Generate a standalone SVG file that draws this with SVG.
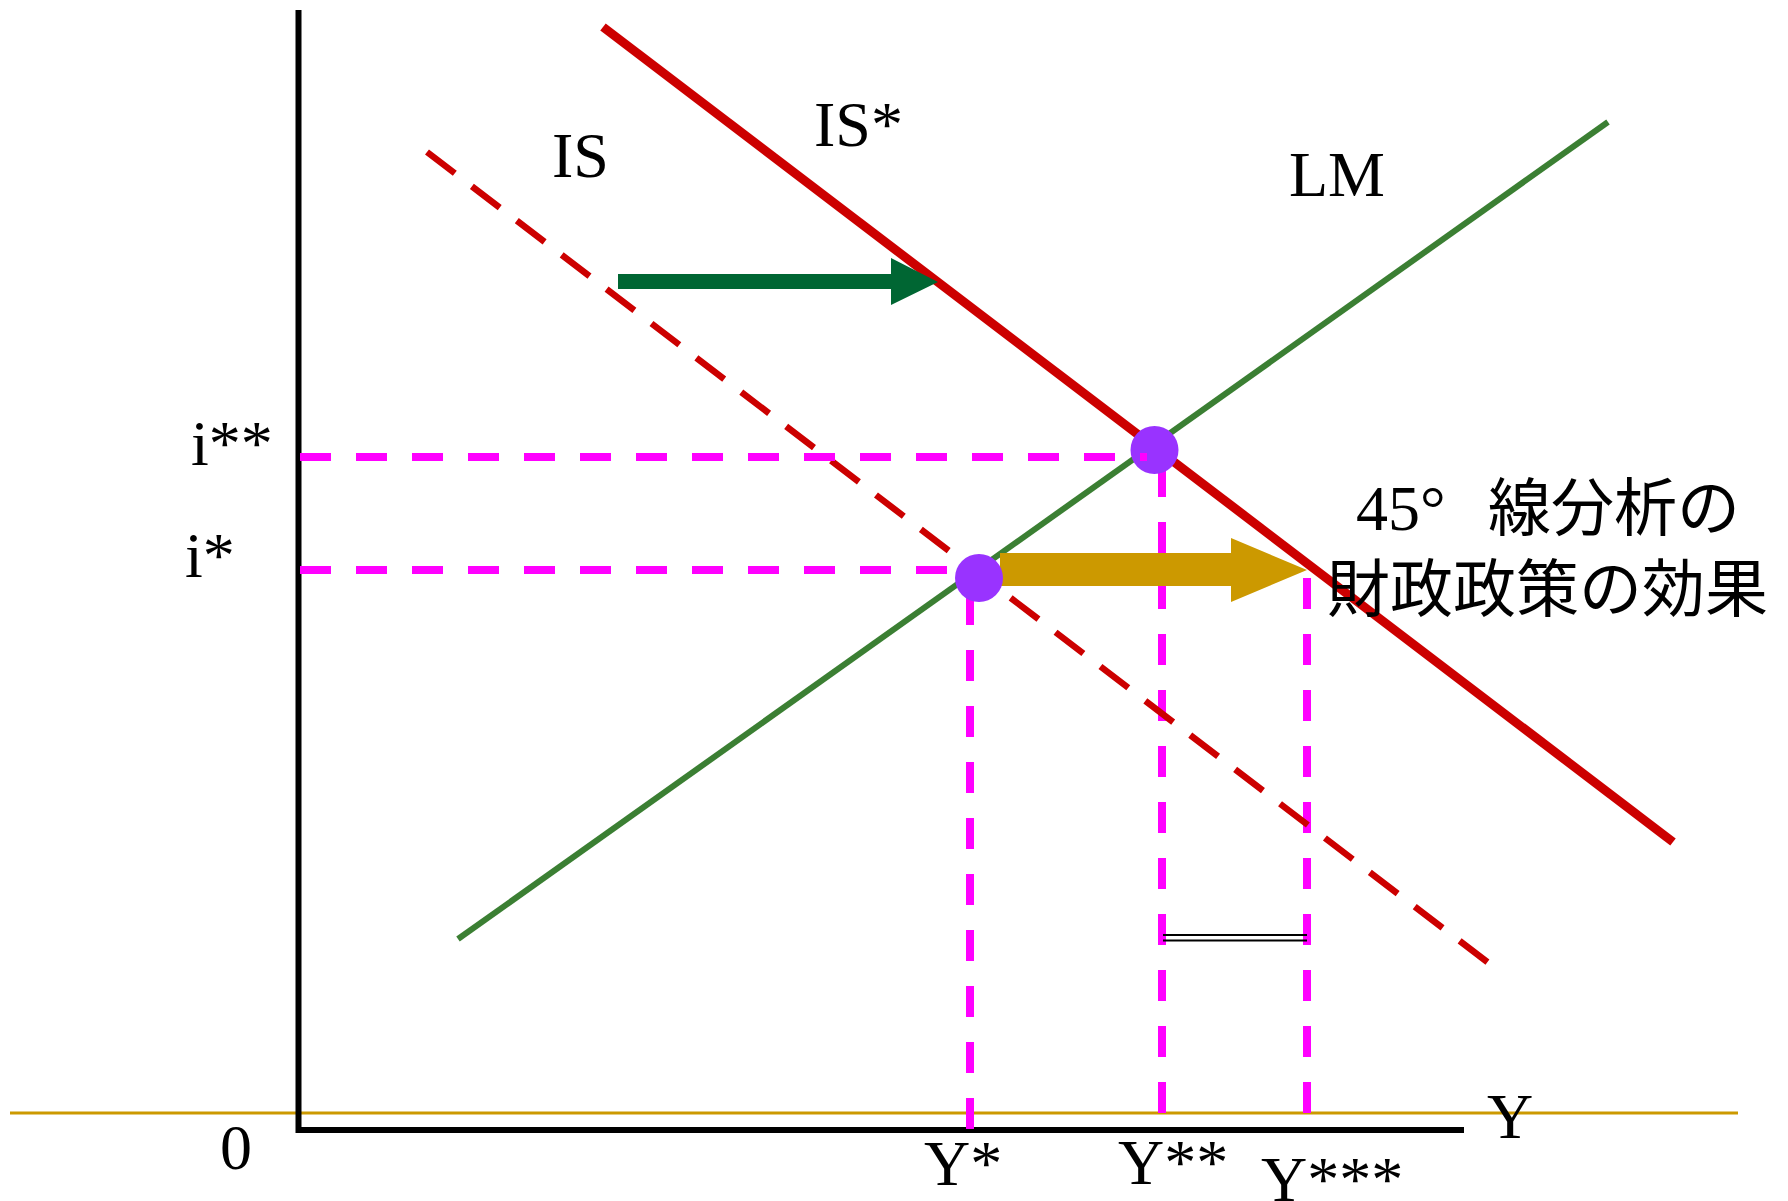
<svg xmlns="http://www.w3.org/2000/svg" width="1788" height="1201" viewBox="0 0 1788 1201">
<style>
.lbl{font-family:"Liberation Serif","Times New Roman",serif;font-size:64px;fill:#000}
.jp{font-family:"Noto Sans CJK JP","Noto Sans CJK SC",sans-serif;font-size:63px;fill:#000}
.mag{stroke:#ff00ff;stroke-width:8;stroke-dasharray:31 25;fill:none}
</style>
<rect width="1788" height="1201" fill="#fff"/>
<g id="baseline-gold"><line x1="10" y1="1113" x2="1738" y2="1113" stroke="#cc9900" stroke-width="3"/></g>
<g id="axes"><polyline points="298.5,10 298.5,1130 1464,1130" fill="none" stroke="#000" stroke-width="6"/></g>
<g id="connectors">
<line class="mag" x1="300" y1="570" x2="947" y2="570"/>
<line class="mag" x1="970" y1="594" x2="970" y2="1131"/>
<line class="mag" x1="1162" y1="466" x2="1162" y2="1113"/>
<line class="mag" x1="1307" y1="578" x2="1307" y2="1113"/>
<line id="IS" x1="427" y1="152" x2="1499" y2="971" stroke="#cc0000" stroke-width="6.5" stroke-dasharray="35 21.5"/>
<line id="ISstar" x1="603" y1="27" x2="1673" y2="842" stroke="#cc0000" stroke-width="9"/>
<line id="LM" x1="458" y1="939" x2="1608" y2="122" stroke="#3b7f33" stroke-width="6"/>
<line x1="1163" y1="935" x2="1307" y2="935" stroke="#000" stroke-width="2"/>
<line x1="1163" y1="940.5" x2="1307" y2="940.5" stroke="#000" stroke-width="2"/>
</g>
<g id="arrow-green"><polygon points="618,274 891,274 891,258 938,282 891,305 891,289 618,289" fill="#006633"/></g>
<g id="arrow-gold"><polygon points="1000,553 1231,553 1231,538 1307,570 1231,602 1231,586 1000,586" fill="#cc9900"/></g>
<g id="dot1"><circle cx="979" cy="578" r="24" fill="#9933ff"/></g>
<g id="dot2"><circle cx="1154.5" cy="450" r="24" fill="#9933ff"/></g>
<g id="i2-line"><line class="mag" x1="300" y1="457" x2="1147" y2="457"/></g>
<g id="labels">
<text class="lbl" x="552" y="177">IS</text>
<text class="lbl" x="814" y="146">IS*</text>
<text class="lbl" x="1289" y="196">LM</text>
<text class="lbl" x="191" y="465">i**</text>
<text class="lbl" x="185" y="577">i*</text>
<text class="lbl" x="220" y="1169">0</text>
<text class="lbl" x="924" y="1185">Y*</text>
<text class="lbl" x="1118" y="1184">Y**</text>
<text class="lbl" x="1261" y="1201">Y***</text>
<text class="lbl" x="1487" y="1138">Y</text>
<text class="lbl" x="1356" y="530">45°</text>
<text class="jp" x="1488" y="530">線分析の</text>
<text class="jp" x="1327" y="611">財政政策の効果</text>
</g>
</svg>
